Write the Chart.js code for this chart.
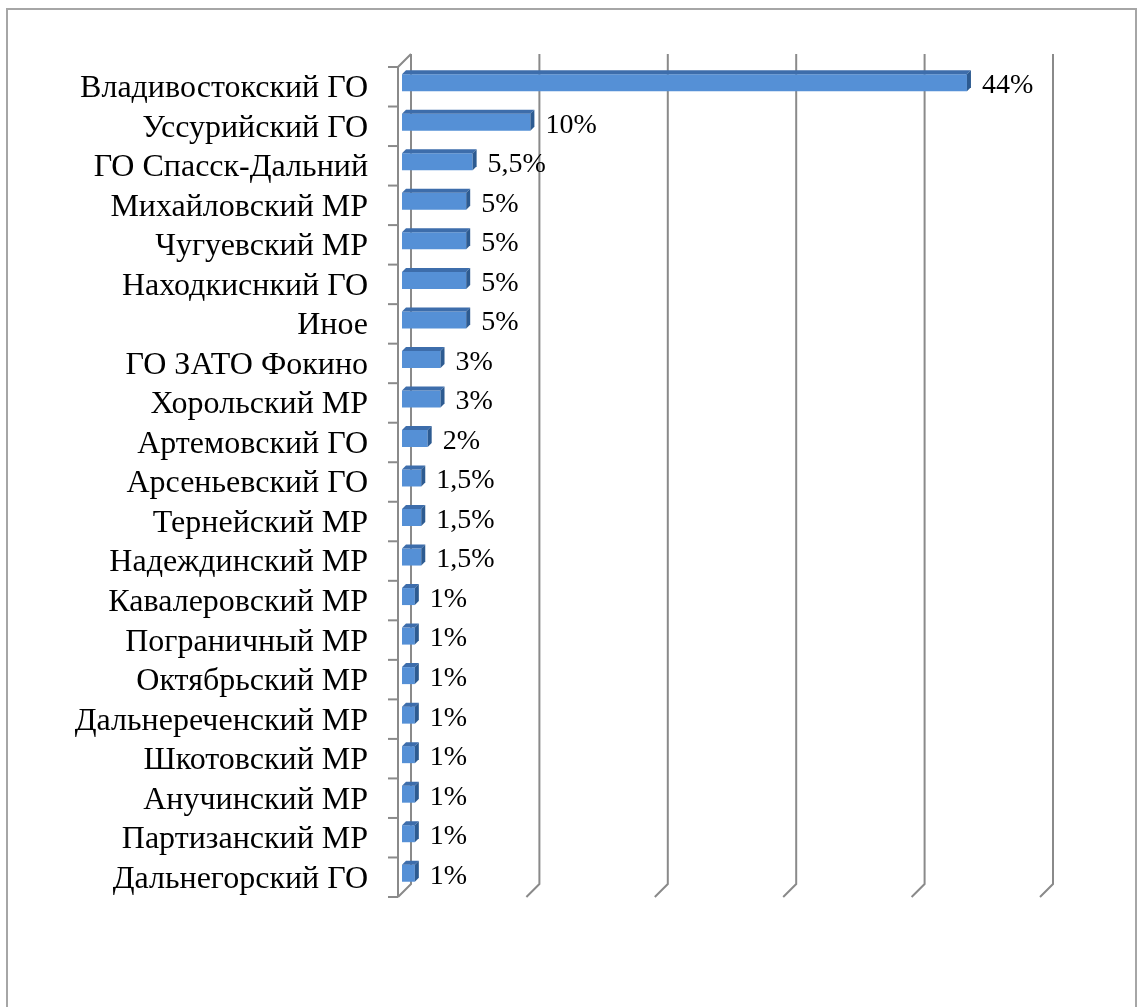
<!DOCTYPE html>
<html>
<head>
<meta charset="utf-8">
<script src="https://cdn.jsdelivr.net/npm/chart.js@4/dist/chart.umd.min.js"></script>
<style>
  html, body { margin: 0; padding: 0; background: #fff; overflow: hidden; }
  #wrap { position: relative; width: 1141px; height: 1007px; }
  #frame { position: absolute; left: 6px; top: 8px; width: 1131px; height: 1100px; border: 2px solid #a6a6a6; box-sizing: border-box; }
  #chartRaioes { position: absolute; left: 0; top: 0; }
</style>
</head>
<body>
<div id="wrap">
  <div id="frame"></div>
  <canvas id="chartRaioes" width="1141" height="1007"></canvas>
</div>
<script>
var categorias = [
    'Владивостокский ГО', 'Уссурийский ГО', 'ГО Спасск-Дальний', 'Михайловский МР',
    'Чугуевский МР', 'Находкиснкий ГО', 'Иное', 'ГО ЗАТО Фокино', 'Хорольский МР',
    'Артемовский ГО', 'Арсеньевский ГО', 'Тернейский МР', 'Надеждинский МР',
    'Кавалеровский МР', 'Пограничный МР', 'Октябрьский МР', 'Дальнереченский МР',
    'Шкотовский МР', 'Анучинский МР', 'Партизанский МР', 'Дальнегорский ГО'
];
var percentuais = [44, 10, 5.5, 5, 5, 5, 5, 3, 3, 2, 1.5, 1.5, 1.5, 1, 1, 1, 1, 1, 1, 1, 1];
var rotulos = percentuais.map(function (v) { return String(v).replace('.', ',') + '%'; });
var eixoMax = 50;
var eixoPasso = 10;

// profundidade 3D (px): parede da frente e de trás em relação ao plano das barras
var frente = 4;
var fundo = 9;
var prof = 4;
var corGrade = '#8a8a8a';

var fonte = '"Liberation Serif", "Times New Roman", serif';

// desenha paredes, grade e faces 3D das barras
var plugin3d = {
    id: 'plugin3d',
    beforeDatasetsDraw: function (chart) {
        var ctx = chart.ctx;
        var x = chart.scales.x;
        var area = chart.chartArea;
        ctx.save();
        ctx.strokeStyle = corGrade;
        ctx.lineWidth = 2;
        // grade vertical na parede do fundo
        for (var v = 0; v <= eixoMax; v += eixoPasso) {
            var px = x.getPixelForValue(v);
            ctx.beginPath();
            ctx.moveTo(px + fundo, area.top - fundo);
            ctx.lineTo(px + fundo, area.bottom - fundo);
            ctx.lineTo(px - frente, area.bottom + frente);
            ctx.stroke();
        }
        // parede esquerda
        var x0 = x.getPixelForValue(0);
        ctx.beginPath();
        ctx.moveTo(x0 + fundo, area.top - fundo);
        ctx.lineTo(x0 - frente, area.top + frente);
        ctx.lineTo(x0 - frente, area.bottom + frente);
        ctx.stroke();
        // marcas do eixo de categorias
        var n = categorias.length;
        var banda = (area.bottom - area.top) / n;
        for (var i = 0; i <= n; i++) {
            var py = area.top + banda * i + frente;
            ctx.beginPath();
            ctx.moveTo(x0 - frente - 10, py);
            ctx.lineTo(x0 - frente, py);
            ctx.stroke();
        }
        ctx.restore();
    },
    afterDatasetsDraw: function (chart) {
        var ctx = chart.ctx;
        var meta = chart.getDatasetMeta(0);
        ctx.save();
        meta.data.forEach(function (bar, i) {
            var p = bar.getProps(['x', 'y', 'base', 'height'], true);
            var x0 = p.base, x1 = p.x;
            var yt = p.y - p.height / 2, yb = p.y + p.height / 2;
            // face superior
            ctx.fillStyle = '#3d6dab';
            ctx.beginPath();
            ctx.moveTo(x0, yt);
            ctx.lineTo(x1, yt);
            ctx.lineTo(x1 + prof, yt - prof);
            ctx.lineTo(x0 + prof, yt - prof);
            ctx.closePath();
            ctx.fill();
            // face lateral
            ctx.fillStyle = '#2d5b91';
            ctx.beginPath();
            ctx.moveTo(x1, yt);
            ctx.lineTo(x1 + prof, yt - prof);
            ctx.lineTo(x1 + prof, yb - prof);
            ctx.lineTo(x1, yb);
            ctx.closePath();
            ctx.fill();
            // rótulo
            ctx.fillStyle = '#000';
            ctx.font = '28px ' + fonte;
            ctx.textAlign = 'left';
            ctx.textBaseline = 'middle';
            ctx.fillText(rotulos[i], x1 + 15, p.y + 3);
        });
        ctx.restore();
    }
};

var ctxRaioes = document.getElementById('chartRaioes');

new Chart(ctxRaioes, {
    type: 'bar',
    data: {
        labels: categorias,
        datasets: [{
            label: '',
            data: percentuais,
            backgroundColor: '#5590d6',
            borderWidth: 0,
            barPercentage: 0.43,
            categoryPercentage: 1
        }]
    },
    options: {
        indexAxis: 'y',
        responsive: false,
        animation: false,
        layout: {
            padding: { left: 0, top: 63, right: 97, bottom: 114 }
        },
        plugins: {
            legend: { display: false },
            tooltip: { enabled: false }
        },
        scales: {
            x: {
                display: false,
                min: 0,
                max: eixoMax,
                ticks: { stepSize: eixoPasso }
            },
            y: {
                grid: { display: false, drawTicks: false },
                border: { display: false },
                afterFit: function (scale) { scale.width = 402; },
                ticks: {
                    padding: 34,
                    labelOffset: 6,
                    color: '#000',
                    autoSkip: false,
                    font: { family: fonte, size: 32 }
                }
            }
        }
    },
    plugins: [plugin3d]
});
</script>
</body>
</html>
